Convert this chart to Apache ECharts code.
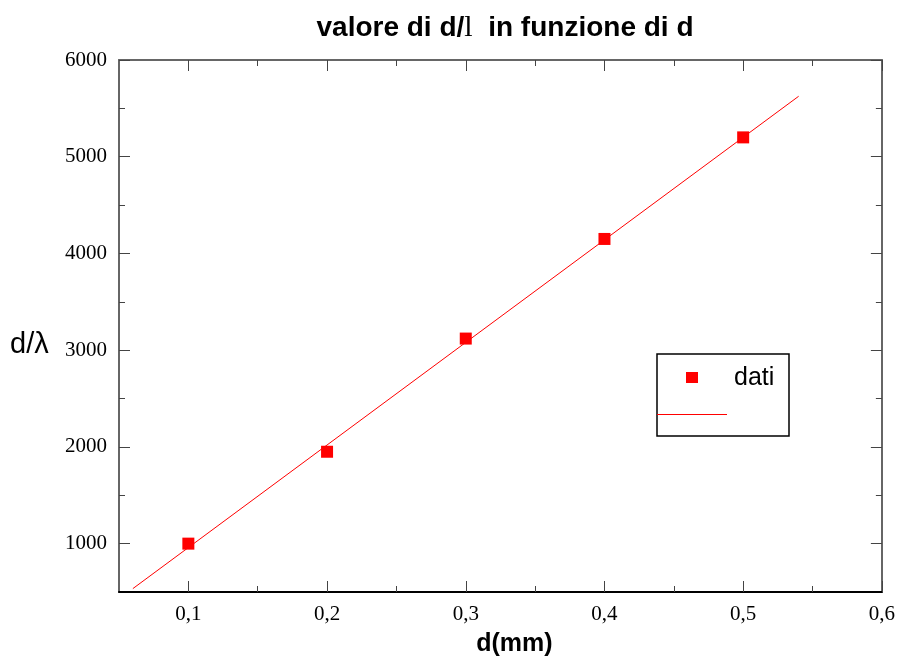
<!DOCTYPE html>
<html><head><meta charset="utf-8">
<script src="https://cdn.jsdelivr.net/npm/echarts@6/dist/echarts.min.js"></script>
<style>html,body{margin:0;padding:0;background:#fff}#c{width:898px;height:664px}</style>
</head><body><div id="c"></div>
<script>
// data
const dValues = [0.1, 0.2, 0.3, 0.4, 0.5];
const dOverLambda = [1000, 1950, 3120, 4150, 5200];
const fitX = [0.06, 0.54];
const fitY = [535, 5625];
const xTicks = [0.1, 0.2, 0.3, 0.4, 0.5, 0.6];
const xMinorTicks = [0.15, 0.25, 0.35, 0.45, 0.55];
const yTicks = [1000, 2000, 3000, 4000, 5000, 6000];
const yMinorTicks = [1500, 2500, 3500, 4500, 5500];

const chart = echarts.init(document.getElementById('c'));
const serif = '"Liberation Serif", "DejaVu Serif", serif';
const sans = '"Liberation Sans", Arial, sans-serif';
const gray = '#666';

function xAx(pos, ticks, len, labels, lineColor, showLine) {
  return {
    type: 'value', position: pos, min: 0.05, max: 0.6,
    axisLine: {show: showLine, onZero: false, lineStyle: {color: lineColor, width: 2}},
    axisTick: {show: true, inside: true, length: len, customValues: ticks, lineStyle: {color: '#444', width: 1}},
    axisLabel: labels ? {show: true, customValues: ticks, margin: 12, fontFamily: serif, fontSize: 21, color: '#000',
      formatter: v => String(+v.toFixed(2)).replace('.', ',')} : {show: false},
    splitLine: {show: false}
  };
}
function yAx(pos, ticks, len, labels, lineColor, showLine) {
  return {
    type: 'value', position: pos, min: 500, max: 6000,
    axisLine: {show: showLine, onZero: false, lineStyle: {color: lineColor, width: 2}},
    axisTick: {show: true, inside: true, length: len, customValues: ticks, lineStyle: {color: '#444', width: 1}},
    axisLabel: labels ? {show: true, customValues: ticks, margin: 12, fontFamily: serif, fontSize: 21, color: '#000',
      formatter: v => String(v)} : {show: false},
    splitLine: {show: false}
  };
}

const xAxes = [
  Object.assign(xAx('bottom', xTicks, 11, true, '#000', true), {name: 'd(mm)', nameLocation: 'middle', nameGap: 40,
    nameTextStyle: {fontFamily: sans, fontWeight: 'bold', fontSize: 25, color: '#000', padding: [0, 0, 0, 28]}}),
  xAx('bottom', xMinorTicks, 6, false, '#000', false),
  xAx('top', xTicks, 11, false, gray, true),
  xAx('top', xMinorTicks, 6, false, gray, false)
];
const yAxes = [
  yAx('left', yTicks, 11, true, gray, true),
  yAx('left', yMinorTicks, 6, false, gray, false),
  yAx('right', yTicks, 11, false, gray, true),
  yAx('right', yMinorTicks, 6, false, gray, false)
];

chart.setOption({
  animation: false,
  backgroundColor: '#fff',
  title: {
    text: '{a|valore di d/}{b|l}{a|  in funzione di d}',
    left: 500, top: 8, textAlign: 'center',
    textStyle: {rich: {
      a: {fontFamily: sans, fontWeight: 'bold', fontSize: 28, color: '#000'},
      b: {fontFamily: serif, fontWeight: 'normal', fontSize: 30, color: '#000'}
    }}
  },
  grid: {left: 119, right: 16, top: 60, bottom: 72},
  xAxis: xAxes,
  yAxis: yAxes,
  series: [
    {type: 'line', name: 'fit', data: fitX.map((x, i) => [x, fitY[i]]), showSymbol: false, symbol: 'none',
      lineStyle: {color: '#ff0000', width: 1}, z: 2},
    {type: 'scatter', name: 'dati', data: dValues.map((x, i) => [x, dOverLambda[i]]), symbol: 'rect', symbolSize: 12,
      itemStyle: {color: '#ff0000', opacity: 1}, z: 3}
  ],
  graphic: [
    {type: 'text', x: 10, y: 345, style: {text: 'd/λ', fontFamily: sans, fontSize: 29, fill: '#000', verticalAlign: 'middle'}, z: 11},
    {type: 'rect', shape: {x: 657, y: 354, width: 132, height: 82}, style: {fill: '#fff', stroke: '#000', lineWidth: 1.5}, z: 10},
    {type: 'rect', shape: {x: 686, y: 372, width: 12, height: 11}, style: {fill: '#ff0000'}, z: 11},
    {type: 'text', x: 734, y: 378, style: {text: 'dati', fontFamily: sans, fontSize: 25, fill: '#000', verticalAlign: 'middle'}, z: 11},
    {type: 'line', shape: {x1: 657, y1: 414.5, x2: 727, y2: 414.5}, style: {stroke: '#ff0000', lineWidth: 1}, z: 11}
  ]
});
</script></body></html>
